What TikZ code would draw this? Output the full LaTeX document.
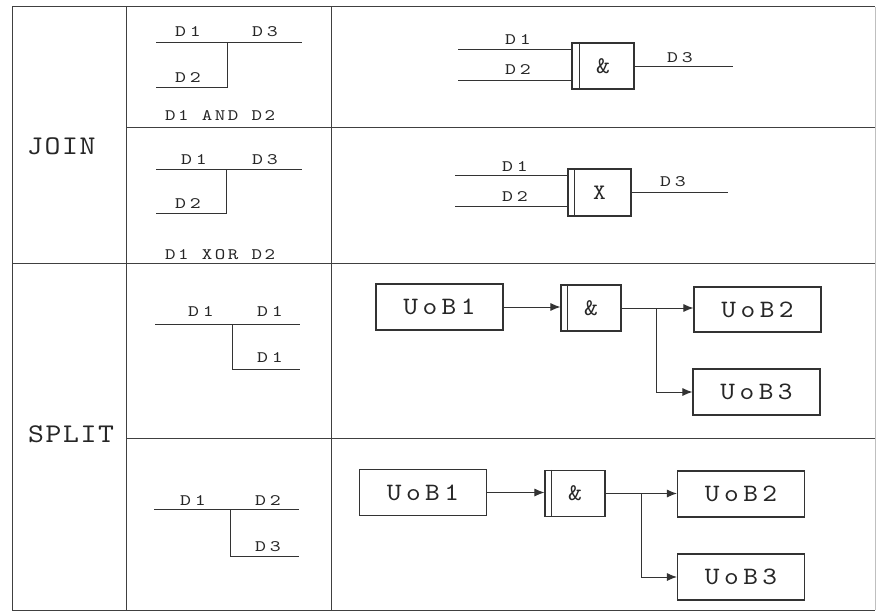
\documentclass[tikz,border=0pt]{standalone}
\usepackage{fontspec}
\usetikzlibrary{arrows.meta}
\newfontfamily\bigtt{lmmono10-regular}[Extension=.otf,FakeStretch=1.12,LetterSpace=6]
\newfontfamily\labtt{lmmono10-regular}[Extension=.otf,FakeStretch=1.3,LetterSpace=24]
\newfontfamily\captt{lmmono10-regular}[Extension=.otf,FakeStretch=1.25,LetterSpace=16]
\newfontfamily\uobtt{lmmono10-regular}[Extension=.otf,FakeStretch=1.12,LetterSpace=18]
\newfontfamily\gatett{lmmono10-regular}[Extension=.otf,FakeStretch=1.1]
\begin{document}
\begin{tikzpicture}[x=1pt,y=-1pt,
  grid/.style={draw=black!75,line width=1pt},
  wire/.style={draw=black!80,line width=1pt},
  arr/.style={wire,-{Latex[length=10pt,width=8pt]}},
  box/.style={draw=black!80,line width=1.1pt,inner sep=0pt,minimum width=127pt,minimum height=46pt,text=black!85,font=\uobtt\fontsize{25}{25}\selectfont},
  gate/.style={draw=black!80,line width=1.1pt,inner sep=0pt,minimum width=61pt,minimum height=46pt,text=black!85,font=\gatett\fontsize{22}{22}\selectfont},
  lab/.style={inner sep=0pt,anchor=base west,text=black!85,font=\labtt\fontsize{16}{16}\selectfont},
  captext/.style={inner sep=0pt,anchor=base west,text=black!85,font=\captt\fontsize{16}{16}\selectfont},
  bigtext/.style={inner sep=0pt,anchor=base west,text=black!85,font=\bigtt\fontsize{27}{27}\selectfont}
]
\useasboundingbox (0,0) rectangle (877,612);
\fill[white] (0,0) rectangle (877,612);

% table
\draw[grid] (12,7) -- (875,7);
\draw[grid] (12,610) -- (875,610);
\draw[grid] (12,7) -- (12,610);
\draw[grid] (126,7) -- (126,610);
\draw[grid] (331,7) -- (331,610);
\draw[draw=black!25,line width=0.6pt] (875,7) -- (875,610);
\draw[grid] (126,128) -- (875,128);
\draw[grid] (12,263) -- (875,263);
\draw[grid] (126,438) -- (875,438);

\node[bigtext] (tjoin) at (27,155) {JOIN};
\node[bigtext] (tsplit) at (28,442) {SPLIT};

% column 2 : JOIN AND
\coordinate (a1) at (156,43); \coordinate (a2) at (227,43); \coordinate (a3) at (302,43);
\coordinate (a4) at (227,88); \coordinate (a5) at (156,88);
\draw[wire] (a1) -- (a3);
\draw[wire] (a2) -- (a4) -- (a5);
\node[lab] (la1) at (175,37) {D1};
\node[lab] (la3) at (252,37) {D3};
\node[lab] (la2) at (175,83) {D2};
\node[captext] (lac) at (165,121) {D1 AND D2};

% column 2 : JOIN XOR
\coordinate (b1) at (156,170); \coordinate (b2) at (226,170); \coordinate (b3) at (302,170);
\coordinate (b4) at (226,214); \coordinate (b5) at (156,214);
\draw[wire] (b1) -- (b3);
\draw[wire] (b2) -- (b4) -- (b5);
\node[lab] (lb1) at (181,165) {D1};
\node[lab] (lb3) at (252,165) {D3};
\node[lab] (lb2) at (175,209) {D2};
\node[captext] (lbc) at (165,259) {D1 XOR D2};

% column 2 : SPLIT 1
\coordinate (c1) at (155,324); \coordinate (c2) at (232,324); \coordinate (c3) at (300,324);
\coordinate (c4) at (232,369); \coordinate (c5) at (300,369);
\draw[wire] (c1) -- (c3);
\draw[wire] (c2) -- (c4) -- (c5);
\node[lab] (lc1) at (188,316) {D1};
\node[lab] (lc2) at (257,316) {D1};
\node[lab] (lc3) at (257,362) {D1};

% column 2 : SPLIT 2
\coordinate (e1) at (154,509); \coordinate (e2) at (230,509); \coordinate (e3) at (299,509);
\coordinate (e4) at (230,556); \coordinate (e5) at (299,556);
\draw[wire] (e1) -- (e3);
\draw[wire] (e2) -- (e4) -- (e5);
\node[lab] (le1) at (180,505) {D1};
\node[lab] (le2) at (255,505) {D2};
\node[lab] (le3) at (255,551) {D3};

% column 3 : JOIN AND
\node[gate,minimum width=62pt] (g1) at (603,66) {\raisebox{-5pt}{\fontsize{24}{24}\selectfont\&}};
\draw[wire] ([xshift=8pt]g1.north west) -- ([xshift=8pt]g1.south west);
\coordinate (i1) at (458,50); \coordinate (i2) at (458,81); \coordinate (o1) at (733,67);
\draw[wire] (i1) -- (i1 -| g1.west);
\draw[wire] (i2) -- (i2 -| g1.west);
\draw[wire] (o1 -| g1.east) -- (o1);
\node[lab] (lg1a) at (505,45) {D1};
\node[lab] (lg1b) at (505,75) {D2};
\node[lab] (lg1c) at (667,63) {D3};

% column 3 : JOIN XOR
\node[gate,minimum width=63pt,minimum height=47pt] (g2) at (599.5,192.5) {\raisebox{-5pt}{X}};
\draw[wire] ([xshift=7pt]g2.north west) -- ([xshift=7pt]g2.south west);
\coordinate (i3) at (455,176); \coordinate (i4) at (455,207); \coordinate (o2) at (728,193);
\draw[wire] (i3) -- (i3 -| g2.west);
\draw[wire] (i4) -- (i4 -| g2.west);
\draw[wire] (o2 -| g2.east) -- (o2);
\node[lab] (lg2a) at (502,172) {D1};
\node[lab] (lg2b) at (502,202) {D2};
\node[lab] (lg2c) at (660,187) {D3};

% column 3 : SPLIT 1
\node[box] (u11) at (439.5,307) {UoB1};
\node[gate,minimum width=60pt] (g3) at (591,308) {\raisebox{-5pt}{\fontsize{24}{24}\selectfont\&}};
\draw[wire] ([xshift=7pt]g3.north west) -- ([xshift=7pt]g3.south west);
\node[box,minimum height=45pt] (u12) at (757.5,309.5) {UoB2};
\node[box] (u13) at (756.5,392) {UoB3};
\coordinate (br1) at (656,308);
\draw[arr] (u11.east) -- (u11.east -| g3.west);
\draw[arr] (g3.east) -- (g3.east -| u12.west);
\draw[arr] (br1) |- (u13.west);

% column 3 : SPLIT 2
\node[box] (u21) at (423,492.5) {UoB1};
\node[gate,minimum width=60pt] (g4) at (575,493.5) {\raisebox{-5pt}{\fontsize{24}{24}\selectfont\&}};
\draw[wire] ([xshift=7pt]g4.north west) -- ([xshift=7pt]g4.south west);
\node[box] (u22) at (741,494) {UoB2};
\node[box] (u23) at (741,577) {UoB3};
\coordinate (br2) at (641,494);
\draw[arr] (u21.east) -- (u21.east -| g4.west);
\draw[arr] (g4.east) -- (g4.east -| u22.west);
\draw[arr] (br2) |- (u23.west);
\end{tikzpicture}
\end{document}
